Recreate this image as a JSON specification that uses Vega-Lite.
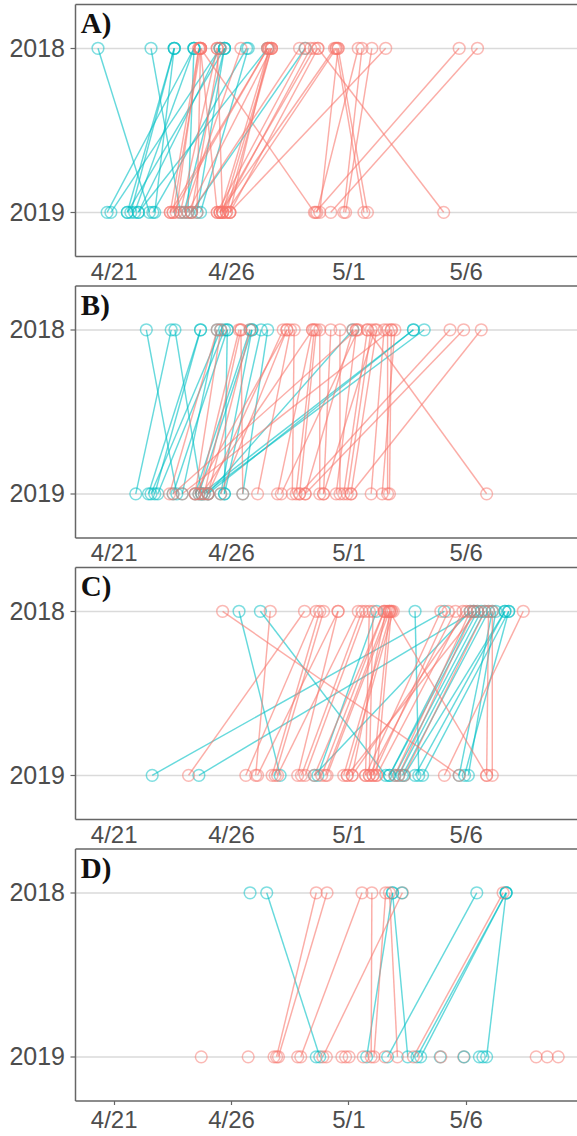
{
  "$schema": "https://vega.github.io/schema/vega-lite/v6.json",
  "description": "Arrival day of tracked individuals in 2018 and 2019, paired by individual, four panels. day counts days from 31 March (21 = April 21, 31 = May 1).",
  "background": "white",
  "padding": {"left": 8, "top": 4, "right": 0, "bottom": 0},
  "bounds": "flush",
  "spacing": 29.5,
  "config": {
    "view": {"stroke": null},
    "axis": {
      "labelFont": "Liberation Sans",
      "labelColor": "#4d4d4d",
      "domainColor": "#666666",
      "domainWidth": 1.5,
      "tickColor": "#666666",
      "tickWidth": 1.2,
      "gridColor": "#dadada",
      "gridWidth": 1.6
    }
  },
  "datasets": {
    "panelLabels": [
      {"panel": "A", "label": "A)"},
      {"panel": "B", "label": "B)"},
      {"panel": "C", "label": "C)"},
      {"panel": "D", "label": "D)"}
    ],
    "arrivals": [
      {"panel":"A","id":"A01","group":"G2","year":2018,"day":20.33},{"panel":"A","id":"A01","group":"G2","year":2019,"day":22.52},
      {"panel":"A","id":"A02","group":"G2","year":2018,"day":22.59},{"panel":"A","id":"A02","group":"G2","year":2019,"day":23.84},
      {"panel":"A","id":"A03","group":"G2","year":2018,"day":23.58},{"panel":"A","id":"A03","group":"G2","year":2019,"day":21.58},
      {"panel":"A","id":"A04","group":"G2","year":2018,"day":23.58},{"panel":"A","id":"A04","group":"G2","year":2019,"day":21.73},
      {"panel":"A","id":"A05","group":"G2","year":2018,"day":23.58},{"panel":"A","id":"A05","group":"G2","year":2019,"day":22.75},
      {"panel":"A","id":"A06","group":"G2","year":2018,"day":24.42},{"panel":"A","id":"A06","group":"G2","year":2019,"day":20.72},
      {"panel":"A","id":"A07","group":"G2","year":2018,"day":24.42},{"panel":"A","id":"A07","group":"G2","year":2019,"day":21.89},
      {"panel":"A","id":"A08","group":"G2","year":2018,"day":24.42},{"panel":"A","id":"A08","group":"G2","year":2019,"day":24.16},
      {"panel":"A","id":"A09","group":"G2","year":2018,"day":25.53},{"panel":"A","id":"A09","group":"G2","year":2019,"day":20.88},
      {"panel":"A","id":"A10","group":"G2","year":2018,"day":25.53},{"panel":"A","id":"A10","group":"G2","year":2019,"day":22.05},
      {"panel":"A","id":"A11","group":"G2","year":2018,"day":25.72},{"panel":"A","id":"A11","group":"G2","year":2019,"day":21.58},
      {"panel":"A","id":"A12","group":"G2","year":2018,"day":25.72},{"panel":"A","id":"A12","group":"G2","year":2019,"day":24.55},
      {"panel":"A","id":"A13","group":"G2","year":2018,"day":26.66},{"panel":"A","id":"A13","group":"G2","year":2019,"day":22.67},
      {"panel":"A","id":"A14","group":"G2","year":2018,"day":26.73},{"panel":"A","id":"A14","group":"G2","year":2019,"day":24.70},
      {"panel":"A","id":"A15","group":"G2","year":2018,"day":27.56},{"panel":"A","id":"A15","group":"G2","year":2019,"day":22.05},
      {"panel":"A","id":"A16","group":"G2","year":2018,"day":29.16},{"panel":"A","id":"A16","group":"G2","year":2019,"day":24.31},
      {"panel":"A","id":"A17","group":"G2","year":2018,"day":25.72},{"panel":"A","id":"A17","group":"G2","year":2019,"day":24.00},
      {"panel":"A","id":"A18","group":"G1","year":2018,"day":24.63},{"panel":"A","id":"A18","group":"G1","year":2019,"day":23.41},
      {"panel":"A","id":"A19","group":"G1","year":2018,"day":24.70},{"panel":"A","id":"A19","group":"G1","year":2019,"day":23.53},
      {"panel":"A","id":"A20","group":"G1","year":2018,"day":24.63},{"panel":"A","id":"A20","group":"G1","year":2019,"day":23.66},
      {"panel":"A","id":"A21","group":"G1","year":2018,"day":25.41},{"panel":"A","id":"A21","group":"G1","year":2019,"day":23.84},
      {"panel":"A","id":"A22","group":"G1","year":2018,"day":24.70},{"panel":"A","id":"A22","group":"G1","year":2019,"day":25.41},
      {"panel":"A","id":"A23","group":"G1","year":2018,"day":25.41},{"panel":"A","id":"A23","group":"G1","year":2019,"day":25.64},
      {"panel":"A","id":"A24","group":"G1","year":2018,"day":26.42},{"panel":"A","id":"A24","group":"G1","year":2019,"day":24.00},
      {"panel":"A","id":"A25","group":"G1","year":2018,"day":27.56},{"panel":"A","id":"A25","group":"G1","year":2019,"day":23.41},
      {"panel":"A","id":"A26","group":"G1","year":2018,"day":27.63},{"panel":"A","id":"A26","group":"G1","year":2019,"day":25.53},
      {"panel":"A","id":"A27","group":"G1","year":2018,"day":27.72},{"panel":"A","id":"A27","group":"G1","year":2019,"day":25.64},
      {"panel":"A","id":"A28","group":"G1","year":2018,"day":27.72},{"panel":"A","id":"A28","group":"G1","year":2019,"day":25.80},
      {"panel":"A","id":"A29","group":"G1","year":2018,"day":27.63},{"panel":"A","id":"A29","group":"G1","year":2019,"day":25.95},
      {"panel":"A","id":"A30","group":"G1","year":2018,"day":27.56},{"panel":"A","id":"A30","group":"G1","year":2019,"day":23.53},
      {"panel":"A","id":"A31","group":"G1","year":2018,"day":28.92},{"panel":"A","id":"A31","group":"G1","year":2019,"day":24.31},
      {"panel":"A","id":"A32","group":"G1","year":2018,"day":29.16},{"panel":"A","id":"A32","group":"G1","year":2019,"day":25.41},
      {"panel":"A","id":"A33","group":"G1","year":2018,"day":29.55},{"panel":"A","id":"A33","group":"G1","year":2019,"day":25.53},
      {"panel":"A","id":"A34","group":"G1","year":2018,"day":29.70},{"panel":"A","id":"A34","group":"G1","year":2019,"day":25.95},
      {"panel":"A","id":"A35","group":"G1","year":2018,"day":30.41},{"panel":"A","id":"A35","group":"G1","year":2019,"day":25.53},
      {"panel":"A","id":"A36","group":"G1","year":2018,"day":30.48},{"panel":"A","id":"A36","group":"G1","year":2019,"day":25.80},
      {"panel":"A","id":"A37","group":"G1","year":2018,"day":30.56},{"panel":"A","id":"A37","group":"G1","year":2019,"day":29.78},
      {"panel":"A","id":"A38","group":"G1","year":2018,"day":31.42},{"panel":"A","id":"A38","group":"G1","year":2019,"day":29.66},
      {"panel":"A","id":"A39","group":"G1","year":2018,"day":31.58},{"panel":"A","id":"A39","group":"G1","year":2019,"day":30.80},
      {"panel":"A","id":"A40","group":"G1","year":2018,"day":32.00},{"panel":"A","id":"A40","group":"G1","year":2019,"day":30.88},
      {"panel":"A","id":"A41","group":"G1","year":2018,"day":32.59},{"panel":"A","id":"A41","group":"G1","year":2019,"day":25.95},
      {"panel":"A","id":"A42","group":"G1","year":2018,"day":24.70},{"panel":"A","id":"A42","group":"G1","year":2019,"day":29.55},
      {"panel":"A","id":"A43","group":"G1","year":2018,"day":29.70},{"panel":"A","id":"A43","group":"G1","year":2019,"day":35.06},
      {"panel":"A","id":"A44","group":"G1","year":2018,"day":30.48},{"panel":"A","id":"A44","group":"G1","year":2019,"day":31.66},
      {"panel":"A","id":"A45","group":"G1","year":2018,"day":30.56},{"panel":"A","id":"A45","group":"G1","year":2019,"day":31.81},
      {"panel":"A","id":"A46","group":"G1","year":2018,"day":35.72},{"panel":"A","id":"A46","group":"G1","year":2019,"day":29.60},
      {"panel":"A","id":"A47","group":"G1","year":2018,"day":36.50},{"panel":"A","id":"A47","group":"G1","year":2019,"day":30.25},
      {"panel":"A","id":"A48","group":"G1","year":2018,"day":24.70},{"panel":"A","id":"A48","group":"G1","year":2019,"day":24.55},
      {"panel":"A","id":"A49","group":"G1","year":2018,"day":25.53},{"panel":"A","id":"A49","group":"G1","year":2019,"day":24.31},
      {"panel":"A","id":"A50","group":"G1","year":2018,"day":29.39},{"panel":"A","id":"A50","group":"G1","year":2019,"day":25.64},
      {"panel":"A","id":"A51","group":"G1","year":2018,"day":27.72},{"panel":"A","id":"A51","group":"G1","year":2019,"day":24.16},

      {"panel":"B","id":"B01","group":"G2","year":2018,"day":22.39},{"panel":"B","id":"B01","group":"G2","year":2019,"day":23.69},
      {"panel":"B","id":"B02","group":"G2","year":2018,"day":23.45},{"panel":"B","id":"B02","group":"G2","year":2019,"day":21.94},
      {"panel":"B","id":"B03","group":"G2","year":2018,"day":23.61},{"panel":"B","id":"B03","group":"G2","year":2019,"day":24.75},
      {"panel":"B","id":"B04","group":"G2","year":2018,"day":24.70},{"panel":"B","id":"B04","group":"G2","year":2019,"day":22.48},
      {"panel":"B","id":"B05","group":"G2","year":2018,"day":24.70},{"panel":"B","id":"B05","group":"G2","year":2019,"day":22.75},
      {"panel":"B","id":"B06","group":"G2","year":2018,"day":25.56},{"panel":"B","id":"B06","group":"G2","year":2019,"day":22.59},
      {"panel":"B","id":"B07","group":"G2","year":2018,"day":25.72},{"panel":"B","id":"B07","group":"G2","year":2019,"day":22.88},
      {"panel":"B","id":"B08","group":"G2","year":2018,"day":25.84},{"panel":"B","id":"B08","group":"G2","year":2019,"day":23.53},
      {"panel":"B","id":"B09","group":"G2","year":2018,"day":25.41},{"panel":"B","id":"B09","group":"G2","year":2019,"day":23.92},
      {"panel":"B","id":"B10","group":"G2","year":2018,"day":26.81},{"panel":"B","id":"B10","group":"G2","year":2019,"day":24.47},
      {"panel":"B","id":"B11","group":"G2","year":2018,"day":26.89},{"panel":"B","id":"B11","group":"G2","year":2019,"day":24.63},
      {"panel":"B","id":"B12","group":"G2","year":2018,"day":27.28},{"panel":"B","id":"B12","group":"G2","year":2019,"day":25.72},
      {"panel":"B","id":"B13","group":"G2","year":2018,"day":27.56},{"panel":"B","id":"B13","group":"G2","year":2019,"day":26.50},
      {"panel":"B","id":"B14","group":"G2","year":2018,"day":33.77},{"panel":"B","id":"B14","group":"G2","year":2019,"day":24.75},
      {"panel":"B","id":"B15","group":"G2","year":2018,"day":34.23},{"panel":"B","id":"B15","group":"G2","year":2019,"day":24.86},
      {"panel":"B","id":"B16","group":"G2","year":2018,"day":33.77},{"panel":"B","id":"B16","group":"G2","year":2019,"day":25.02},
      {"panel":"B","id":"B17","group":"G2","year":2018,"day":25.84},{"panel":"B","id":"B17","group":"G2","year":2019,"day":25.72},
      {"panel":"B","id":"B18","group":"G2","year":2018,"day":31.19},{"panel":"B","id":"B18","group":"G2","year":2019,"day":25.02},
      {"panel":"B","id":"B19","group":"G2","year":2018,"day":26.89},{"panel":"B","id":"B19","group":"G2","year":2019,"day":25.56},
      {"panel":"B","id":"B20","group":"G1","year":2018,"day":25.41},{"panel":"B","id":"B20","group":"G1","year":2019,"day":23.38},
      {"panel":"B","id":"B21","group":"G1","year":2018,"day":25.56},{"panel":"B","id":"B21","group":"G1","year":2019,"day":24.47},
      {"panel":"B","id":"B22","group":"G1","year":2018,"day":26.34},{"panel":"B","id":"B22","group":"G1","year":2019,"day":24.63},
      {"panel":"B","id":"B23","group":"G1","year":2018,"day":26.42},{"panel":"B","id":"B23","group":"G1","year":2019,"day":24.86},
      {"panel":"B","id":"B24","group":"G1","year":2018,"day":26.81},{"panel":"B","id":"B24","group":"G1","year":2019,"day":25.02},
      {"panel":"B","id":"B25","group":"G1","year":2018,"day":28.22},{"panel":"B","id":"B25","group":"G1","year":2019,"day":25.02},
      {"panel":"B","id":"B26","group":"G1","year":2018,"day":28.38},{"panel":"B","id":"B26","group":"G1","year":2019,"day":25.56},
      {"panel":"B","id":"B27","group":"G1","year":2018,"day":28.53},{"panel":"B","id":"B27","group":"G1","year":2019,"day":27.13},
      {"panel":"B","id":"B28","group":"G1","year":2018,"day":28.69},{"panel":"B","id":"B28","group":"G1","year":2019,"day":28.61},
      {"panel":"B","id":"B29","group":"G1","year":2018,"day":29.47},{"panel":"B","id":"B29","group":"G1","year":2019,"day":27.98},
      {"panel":"B","id":"B30","group":"G1","year":2018,"day":29.55},{"panel":"B","id":"B30","group":"G1","year":2019,"day":28.77},
      {"panel":"B","id":"B31","group":"G1","year":2018,"day":29.63},{"panel":"B","id":"B31","group":"G1","year":2019,"day":28.92},
      {"panel":"B","id":"B32","group":"G1","year":2018,"day":29.78},{"panel":"B","id":"B32","group":"G1","year":2019,"day":29.78},
      {"panel":"B","id":"B33","group":"G1","year":2018,"day":30.25},{"panel":"B","id":"B33","group":"G1","year":2019,"day":29.94},
      {"panel":"B","id":"B34","group":"G1","year":2018,"day":30.64},{"panel":"B","id":"B34","group":"G1","year":2019,"day":30.64},
      {"panel":"B","id":"B35","group":"G1","year":2018,"day":31.19},{"panel":"B","id":"B35","group":"G1","year":2019,"day":29.16},
      {"panel":"B","id":"B36","group":"G1","year":2018,"day":31.34},{"panel":"B","id":"B36","group":"G1","year":2019,"day":30.48},
      {"panel":"B","id":"B37","group":"G1","year":2018,"day":31.42},{"panel":"B","id":"B37","group":"G1","year":2019,"day":28.14},
      {"panel":"B","id":"B38","group":"G1","year":2018,"day":31.81},{"panel":"B","id":"B38","group":"G1","year":2019,"day":30.80},
      {"panel":"B","id":"B39","group":"G1","year":2018,"day":31.97},{"panel":"B","id":"B39","group":"G1","year":2019,"day":30.95},
      {"panel":"B","id":"B40","group":"G1","year":2018,"day":32.13},{"panel":"B","id":"B40","group":"G1","year":2019,"day":29.94},
      {"panel":"B","id":"B41","group":"G1","year":2018,"day":32.20},{"panel":"B","id":"B41","group":"G1","year":2019,"day":31.11},
      {"panel":"B","id":"B42","group":"G1","year":2018,"day":32.52},{"panel":"B","id":"B42","group":"G1","year":2019,"day":31.97},
      {"panel":"B","id":"B43","group":"G1","year":2018,"day":32.67},{"panel":"B","id":"B43","group":"G1","year":2019,"day":32.67},
      {"panel":"B","id":"B44","group":"G1","year":2018,"day":32.83},{"panel":"B","id":"B44","group":"G1","year":2019,"day":32.75},
      {"panel":"B","id":"B45","group":"G1","year":2018,"day":32.98},{"panel":"B","id":"B45","group":"G1","year":2019,"day":32.44},
      {"panel":"B","id":"B46","group":"G1","year":2018,"day":31.81},{"panel":"B","id":"B46","group":"G1","year":2019,"day":36.89},
      {"panel":"B","id":"B47","group":"G1","year":2018,"day":35.33},{"panel":"B","id":"B47","group":"G1","year":2019,"day":28.92},
      {"panel":"B","id":"B48","group":"G1","year":2018,"day":35.91},{"panel":"B","id":"B48","group":"G1","year":2019,"day":29.16},
      {"panel":"B","id":"B49","group":"G1","year":2018,"day":36.66},{"panel":"B","id":"B49","group":"G1","year":2019,"day":31.11},
      {"panel":"B","id":"B50","group":"G1","year":2018,"day":31.34},{"panel":"B","id":"B50","group":"G1","year":2019,"day":23.53},
      {"panel":"B","id":"B51","group":"G1","year":2018,"day":32.83},{"panel":"B","id":"B51","group":"G1","year":2019,"day":23.92},
      {"panel":"B","id":"B52","group":"G1","year":2018,"day":26.42},{"panel":"B","id":"B52","group":"G1","year":2019,"day":26.50},
      {"panel":"B","id":"B53","group":"G1","year":2018,"day":28.38},{"panel":"B","id":"B53","group":"G1","year":2019,"day":24.47},
      {"panel":"B","id":"B54","group":"G1","year":2018,"day":29.47},{"panel":"B","id":"B54","group":"G1","year":2019,"day":24.75},

      {"panel":"C","id":"C01","group":"G2","year":2018,"day":35.09},{"panel":"C","id":"C01","group":"G2","year":2019,"day":22.64},
      {"panel":"C","id":"C02","group":"G2","year":2018,"day":36.34},{"panel":"C","id":"C02","group":"G2","year":2019,"day":24.63},
      {"panel":"C","id":"C03","group":"G2","year":2018,"day":26.34},{"panel":"C","id":"C03","group":"G2","year":2019,"day":28.09},
      {"panel":"C","id":"C04","group":"G2","year":2018,"day":27.25},{"panel":"C","id":"C04","group":"G2","year":2019,"day":32.59},
      {"panel":"C","id":"C05","group":"G2","year":2018,"day":32.20},{"panel":"C","id":"C05","group":"G2","year":2019,"day":29.70},
      {"panel":"C","id":"C06","group":"G2","year":2018,"day":33.84},{"panel":"C","id":"C06","group":"G2","year":2019,"day":34.00},
      {"panel":"C","id":"C07","group":"G2","year":2018,"day":36.50},{"panel":"C","id":"C07","group":"G2","year":2019,"day":32.75},
      {"panel":"C","id":"C08","group":"G2","year":2018,"day":36.66},{"panel":"C","id":"C08","group":"G2","year":2019,"day":32.98},
      {"panel":"C","id":"C09","group":"G2","year":2018,"day":36.81},{"panel":"C","id":"C09","group":"G2","year":2019,"day":33.14},
      {"panel":"C","id":"C10","group":"G2","year":2018,"day":36.97},{"panel":"C","id":"C10","group":"G2","year":2019,"day":33.30},
      {"panel":"C","id":"C11","group":"G2","year":2018,"day":37.67},{"panel":"C","id":"C11","group":"G2","year":2019,"day":33.38},
      {"panel":"C","id":"C12","group":"G2","year":2018,"day":37.83},{"panel":"C","id":"C12","group":"G2","year":2019,"day":34.16},
      {"panel":"C","id":"C13","group":"G2","year":2018,"day":37.13},{"panel":"C","id":"C13","group":"G2","year":2019,"day":35.72},
      {"panel":"C","id":"C14","group":"G2","year":2018,"day":37.83},{"panel":"C","id":"C14","group":"G2","year":2019,"day":35.95},
      {"panel":"C","id":"C15","group":"G2","year":2018,"day":37.28},{"panel":"C","id":"C15","group":"G2","year":2019,"day":36.11},
      {"panel":"C","id":"C16","group":"G2","year":2018,"day":36.19},{"panel":"C","id":"C16","group":"G2","year":2019,"day":29.55},
      {"panel":"C","id":"C17","group":"G2","year":2018,"day":37.67},{"panel":"C","id":"C17","group":"G2","year":2019,"day":33.84},
      {"panel":"C","id":"C18","group":"G2","year":2018,"day":36.34},{"panel":"C","id":"C18","group":"G2","year":2019,"day":32.75},
      {"panel":"C","id":"C19","group":"G1","year":2018,"day":25.64},{"panel":"C","id":"C19","group":"G1","year":2019,"day":35.72},
      {"panel":"C","id":"C20","group":"G1","year":2018,"day":29.13},{"panel":"C","id":"C20","group":"G1","year":2019,"day":24.19},
      {"panel":"C","id":"C21","group":"G1","year":2018,"day":27.67},{"panel":"C","id":"C21","group":"G1","year":2019,"day":27.05},
      {"panel":"C","id":"C22","group":"G1","year":2018,"day":29.63},{"panel":"C","id":"C22","group":"G1","year":2019,"day":26.63},
      {"panel":"C","id":"C23","group":"G1","year":2018,"day":29.78},{"panel":"C","id":"C23","group":"G1","year":2019,"day":27.75},
      {"panel":"C","id":"C24","group":"G1","year":2018,"day":29.94},{"panel":"C","id":"C24","group":"G1","year":2019,"day":27.88},
      {"panel":"C","id":"C25","group":"G1","year":2018,"day":30.56},{"panel":"C","id":"C25","group":"G1","year":2019,"day":28.84},
      {"panel":"C","id":"C26","group":"G1","year":2018,"day":31.42},{"panel":"C","id":"C26","group":"G1","year":2019,"day":27.98},
      {"panel":"C","id":"C27","group":"G1","year":2018,"day":31.58},{"panel":"C","id":"C27","group":"G1","year":2019,"day":29.00},
      {"panel":"C","id":"C28","group":"G1","year":2018,"day":31.73},{"panel":"C","id":"C28","group":"G1","year":2019,"day":29.16},
      {"panel":"C","id":"C29","group":"G1","year":2018,"day":31.89},{"panel":"C","id":"C29","group":"G1","year":2019,"day":31.73},
      {"panel":"C","id":"C30","group":"G1","year":2018,"day":32.05},{"panel":"C","id":"C30","group":"G1","year":2019,"day":31.89},
      {"panel":"C","id":"C31","group":"G1","year":2018,"day":32.52},{"panel":"C","id":"C31","group":"G1","year":2019,"day":29.86},
      {"panel":"C","id":"C32","group":"G1","year":2018,"day":32.67},{"panel":"C","id":"C32","group":"G1","year":2019,"day":30.02},
      {"panel":"C","id":"C33","group":"G1","year":2018,"day":32.75},{"panel":"C","id":"C33","group":"G1","year":2019,"day":30.09},
      {"panel":"C","id":"C34","group":"G1","year":2018,"day":32.83},{"panel":"C","id":"C34","group":"G1","year":2019,"day":30.80},
      {"panel":"C","id":"C35","group":"G1","year":2018,"day":32.91},{"panel":"C","id":"C35","group":"G1","year":2019,"day":30.95},
      {"panel":"C","id":"C36","group":"G1","year":2018,"day":32.59},{"panel":"C","id":"C36","group":"G1","year":2019,"day":31.16},
      {"panel":"C","id":"C37","group":"G1","year":2018,"day":32.75},{"panel":"C","id":"C37","group":"G1","year":2019,"day":32.05},
      {"panel":"C","id":"C38","group":"G1","year":2018,"day":32.83},{"panel":"C","id":"C38","group":"G1","year":2019,"day":32.20},
      {"panel":"C","id":"C39","group":"G1","year":2018,"day":34.94},{"panel":"C","id":"C39","group":"G1","year":2019,"day":31.73},
      {"panel":"C","id":"C40","group":"G1","year":2018,"day":35.25},{"panel":"C","id":"C40","group":"G1","year":2019,"day":32.05},
      {"panel":"C","id":"C41","group":"G1","year":2018,"day":35.56},{"panel":"C","id":"C41","group":"G1","year":2019,"day":31.89},
      {"panel":"C","id":"C42","group":"G1","year":2018,"day":35.88},{"panel":"C","id":"C42","group":"G1","year":2019,"day":32.20},
      {"panel":"C","id":"C43","group":"G1","year":2018,"day":36.03},{"panel":"C","id":"C43","group":"G1","year":2019,"day":31.16},
      {"panel":"C","id":"C44","group":"G1","year":2018,"day":36.97},{"panel":"C","id":"C44","group":"G1","year":2019,"day":36.89},
      {"panel":"C","id":"C45","group":"G1","year":2018,"day":37.13},{"panel":"C","id":"C45","group":"G1","year":2019,"day":37.13},
      {"panel":"C","id":"C46","group":"G1","year":2018,"day":38.45},{"panel":"C","id":"C46","group":"G1","year":2019,"day":35.09},
      {"panel":"C","id":"C47","group":"G1","year":2018,"day":32.75},{"panel":"C","id":"C47","group":"G1","year":2019,"day":36.89},
      {"panel":"C","id":"C48","group":"G1","year":2018,"day":30.56},{"panel":"C","id":"C48","group":"G1","year":2019,"day":27.13},
      {"panel":"C","id":"C49","group":"G1","year":2018,"day":36.50},{"panel":"C","id":"C49","group":"G1","year":2019,"day":30.95},
      {"panel":"C","id":"C50","group":"G1","year":2018,"day":36.81},{"panel":"C","id":"C50","group":"G1","year":2019,"day":33.38},
      {"panel":"C","id":"C51","group":"G1","year":2018,"day":32.52},{"panel":"C","id":"C51","group":"G1","year":2019,"day":29.55},
      {"panel":"C","id":"C52","group":"G1","year":2018,"day":36.19},{"panel":"C","id":"C52","group":"G1","year":2019,"day":32.98},
      {"panel":"C","id":"C53","group":"G1","year":2018,"day":36.34},{"panel":"C","id":"C53","group":"G1","year":2019,"day":33.14},

      {"panel":"D","id":"D01","group":"G2","year":2018,"day":27.52},{"panel":"D","id":"D01","group":"G2","year":2019,"day":29.78},
      {"panel":"D","id":"D02","group":"G2","year":2018,"day":32.88},{"panel":"D","id":"D02","group":"G2","year":2019,"day":33.53},
      {"panel":"D","id":"D03","group":"G2","year":2018,"day":32.88},{"panel":"D","id":"D03","group":"G2","year":2019,"day":31.78},
      {"panel":"D","id":"D04","group":"G2","year":2018,"day":36.47},{"panel":"D","id":"D04","group":"G2","year":2019,"day":32.67},
      {"panel":"D","id":"D05","group":"G2","year":2018,"day":37.72},{"panel":"D","id":"D05","group":"G2","year":2019,"day":33.92},
      {"panel":"D","id":"D06","group":"G2","year":2018,"day":37.72},{"panel":"D","id":"D06","group":"G2","year":2019,"day":34.08},
      {"panel":"D","id":"D07","group":"G2","year":2018,"day":37.72},{"panel":"D","id":"D07","group":"G2","year":2019,"day":36.89},
      {"panel":"D","id":"D08","group":"G2","year":2018,"day":26.81},
      {"panel":"D","id":"D09","group":"G1","year":2018,"day":29.63},{"panel":"D","id":"D09","group":"G1","year":2019,"day":27.94},
      {"panel":"D","id":"D10","group":"G1","year":2018,"day":30.09},{"panel":"D","id":"D10","group":"G1","year":2019,"day":28.02},
      {"panel":"D","id":"D11","group":"G1","year":2018,"day":31.58},{"panel":"D","id":"D11","group":"G1","year":2019,"day":28.97},
      {"panel":"D","id":"D12","group":"G1","year":2018,"day":32.00},{"panel":"D","id":"D12","group":"G1","year":2019,"day":31.97},
      {"panel":"D","id":"D13","group":"G1","year":2018,"day":32.59},{"panel":"D","id":"D13","group":"G1","year":2019,"day":32.09},
      {"panel":"D","id":"D14","group":"G1","year":2018,"day":33.30},{"panel":"D","id":"D14","group":"G1","year":2019,"day":29.91},
      {"panel":"D","id":"D15","group":"G1","year":2018,"day":32.75},{"panel":"D","id":"D15","group":"G1","year":2019,"day":33.09},
      {"panel":"D","id":"D16","group":"G1","year":2018,"day":37.59},{"panel":"D","id":"D16","group":"G1","year":2019,"day":33.77},
      {"panel":"D","id":"D17","group":"G1","year":2019,"day":24.73},
      {"panel":"D","id":"D18","group":"G1","year":2019,"day":26.73},
      {"panel":"D","id":"D19","group":"G1","year":2019,"day":27.83},
      {"panel":"D","id":"D20","group":"G1","year":2019,"day":28.84},
      {"panel":"D","id":"D21","group":"G2","year":2019,"day":29.63},
      {"panel":"D","id":"D22","group":"G1","year":2019,"day":30.06},
      {"panel":"D","id":"D23","group":"G1","year":2019,"day":30.72},
      {"panel":"D","id":"D24","group":"G1","year":2019,"day":30.88},
      {"panel":"D","id":"D25","group":"G1","year":2019,"day":31.03},
      {"panel":"D","id":"D26","group":"G1","year":2019,"day":31.63},
      {"panel":"D","id":"D27","group":"G1","year":2019,"day":32.56},
      {"panel":"D","id":"D28","group":"G2","year":2019,"day":34.91},
      {"panel":"D","id":"D29","group":"G1","year":2019,"day":34.94},
      {"panel":"D","id":"D30","group":"G1","year":2019,"day":35.91},
      {"panel":"D","id":"D31","group":"G2","year":2019,"day":35.93},
      {"panel":"D","id":"D32","group":"G2","year":2019,"day":36.58},
      {"panel":"D","id":"D33","group":"G2","year":2019,"day":36.73},
      {"panel":"D","id":"D34","group":"G1","year":2019,"day":39.00},
      {"panel":"D","id":"D35","group":"G1","year":2019,"day":39.47},
      {"panel":"D","id":"D36","group":"G1","year":2019,"day":39.94},
      {"panel":"D","id":"D37","group":"G2","year":2018,"day":33.28}
    ]
  },
  "vconcat": [
    {
      "width": 502, "height": 252,
      "resolve": {"axis": {"x": "independent"}},
      "layer": [
        {
          "data": {"name": "arrivals"},
          "transform": [{"filter": "datum.panel === 'A'"}],
          "mark": {"type": "line", "strokeWidth": 1.45, "opacity": 0.6},
          "encoding": {
            "x": {"field": "day", "type": "quantitative", "scale": {"domain": [19.351, 40.74], "nice": false, "zero": false},
                  "axis": {"orient": "bottom", "values": [21, 26, 31, 36], "labelExpr": "datum.value <= 30 ? '4/' + datum.value : '5/' + (datum.value - 30)", "labelFontSize": 24, "labelPadding": 4, "ticks": false, "tickSize": 0, "grid": false, "title": null, "labelFlush": false, "labelOverlap": false}},
            "y": {"field": "year", "type": "quantitative", "scale": {"domain": [2017.73, 2019.2665], "reverse": true, "nice": false, "zero": false},
                  "axis": {"values": [2018, 2019], "format": "d", "labelFontSize": 25, "labelPadding": 5.5, "tickSize": 5, "grid": true, "title": null, "labelFlush": false}},
            "color": {"field": "group", "type": "nominal", "scale": {"domain": ["G1", "G2"], "range": ["#F8766D", "#00BFC4"]}, "legend": null},
            "detail": {"field": "id"}
          }
        },
        {
          "data": {"name": "arrivals"},
          "transform": [{"filter": "datum.panel === 'A'"}],
          "mark": {"type": "point", "shape": "circle", "filled": false, "size": 138, "strokeWidth": 1.45, "opacity": 0.5},
          "encoding": {
            "x": {"field": "day", "type": "quantitative", "scale": {"domain": [19.351, 40.74], "nice": false, "zero": false},
                  "axis": {"orient": "top", "labels": false, "ticks": false, "grid": false, "title": null, "domain": true}},
            "y": {"field": "year", "type": "quantitative", "scale": {"domain": [2017.73, 2019.2665], "reverse": true, "nice": false, "zero": false},
                  "axis": {"values": [2018, 2019], "format": "d", "labelFontSize": 25, "labelPadding": 5.5, "tickSize": 5, "grid": true, "title": null, "labelFlush": false}},
            "color": {"field": "group", "type": "nominal", "scale": {"domain": ["G1", "G2"], "range": ["#F8766D", "#00BFC4"]}, "legend": null}
          }
        },
        {
          "data": {"name": "panelLabels"},
          "transform": [{"filter": "datum.panel === 'A'"}],
          "mark": {"type": "text", "font": "Liberation Serif", "fontWeight": "bold", "fontSize": 29, "align": "left", "baseline": "alphabetic", "color": "#111111"},
          "encoding": {
            "x": {"datum": 19.6, "type": "quantitative", "scale": {"domain": [19.351, 40.74], "nice": false, "zero": false}, "axis": null},
            "y": {"datum": 2017.909, "type": "quantitative", "scale": {"domain": [2017.73, 2019.2665], "reverse": true, "nice": false, "zero": false},
                  "axis": {"values": [2018, 2019], "format": "d", "labelFontSize": 25, "labelPadding": 5.5, "tickSize": 5, "grid": true, "title": null, "labelFlush": false}},
            "text": {"field": "label"}
          }
        }
      ]
    },
    {
      "width": 502, "height": 252,
      "resolve": {"axis": {"x": "independent"}},
      "layer": [
        {
          "data": {"name": "arrivals"},
          "transform": [{"filter": "datum.panel === 'B'"}],
          "mark": {"type": "line", "strokeWidth": 1.45, "opacity": 0.6},
          "encoding": {
            "x": {"field": "day", "type": "quantitative", "scale": {"domain": [19.351, 40.74], "nice": false, "zero": false},
                  "axis": {"orient": "bottom", "values": [21, 26, 31, 36], "labelExpr": "datum.value <= 30 ? '4/' + datum.value : '5/' + (datum.value - 30)", "labelFontSize": 24, "labelPadding": 4, "ticks": false, "tickSize": 0, "grid": false, "title": null, "labelFlush": false, "labelOverlap": false}},
            "y": {"field": "year", "type": "quantitative", "scale": {"domain": [2017.73, 2019.2665], "reverse": true, "nice": false, "zero": false},
                  "axis": {"values": [2018, 2019], "format": "d", "labelFontSize": 25, "labelPadding": 5.5, "tickSize": 5, "grid": true, "title": null, "labelFlush": false}},
            "color": {"field": "group", "type": "nominal", "scale": {"domain": ["G1", "G2"], "range": ["#F8766D", "#00BFC4"]}, "legend": null},
            "detail": {"field": "id"}
          }
        },
        {
          "data": {"name": "arrivals"},
          "transform": [{"filter": "datum.panel === 'B'"}],
          "mark": {"type": "point", "shape": "circle", "filled": false, "size": 138, "strokeWidth": 1.45, "opacity": 0.5},
          "encoding": {
            "x": {"field": "day", "type": "quantitative", "scale": {"domain": [19.351, 40.74], "nice": false, "zero": false},
                  "axis": {"orient": "top", "labels": false, "ticks": false, "grid": false, "title": null, "domain": true}},
            "y": {"field": "year", "type": "quantitative", "scale": {"domain": [2017.73, 2019.2665], "reverse": true, "nice": false, "zero": false},
                  "axis": {"values": [2018, 2019], "format": "d", "labelFontSize": 25, "labelPadding": 5.5, "tickSize": 5, "grid": true, "title": null, "labelFlush": false}},
            "color": {"field": "group", "type": "nominal", "scale": {"domain": ["G1", "G2"], "range": ["#F8766D", "#00BFC4"]}, "legend": null}
          }
        },
        {
          "data": {"name": "panelLabels"},
          "transform": [{"filter": "datum.panel === 'B'"}],
          "mark": {"type": "text", "font": "Liberation Serif", "fontWeight": "bold", "fontSize": 29, "align": "left", "baseline": "alphabetic", "color": "#111111"},
          "encoding": {
            "x": {"datum": 19.6, "type": "quantitative", "scale": {"domain": [19.351, 40.74], "nice": false, "zero": false}, "axis": null},
            "y": {"datum": 2017.909, "type": "quantitative", "scale": {"domain": [2017.73, 2019.2665], "reverse": true, "nice": false, "zero": false},
                  "axis": {"values": [2018, 2019], "format": "d", "labelFontSize": 25, "labelPadding": 5.5, "tickSize": 5, "grid": true, "title": null, "labelFlush": false}},
            "text": {"field": "label"}
          }
        }
      ]
    },
    {
      "width": 502, "height": 252,
      "resolve": {"axis": {"x": "independent"}},
      "layer": [
        {
          "data": {"name": "arrivals"},
          "transform": [{"filter": "datum.panel === 'C'"}],
          "mark": {"type": "line", "strokeWidth": 1.45, "opacity": 0.6},
          "encoding": {
            "x": {"field": "day", "type": "quantitative", "scale": {"domain": [19.351, 40.74], "nice": false, "zero": false},
                  "axis": {"orient": "bottom", "values": [21, 26, 31, 36], "labelExpr": "datum.value <= 30 ? '4/' + datum.value : '5/' + (datum.value - 30)", "labelFontSize": 24, "labelPadding": 4, "ticks": false, "tickSize": 0, "grid": false, "title": null, "labelFlush": false, "labelOverlap": false}},
            "y": {"field": "year", "type": "quantitative", "scale": {"domain": [2017.73, 2019.2665], "reverse": true, "nice": false, "zero": false},
                  "axis": {"values": [2018, 2019], "format": "d", "labelFontSize": 25, "labelPadding": 5.5, "tickSize": 5, "grid": true, "title": null, "labelFlush": false}},
            "color": {"field": "group", "type": "nominal", "scale": {"domain": ["G1", "G2"], "range": ["#F8766D", "#00BFC4"]}, "legend": null},
            "detail": {"field": "id"}
          }
        },
        {
          "data": {"name": "arrivals"},
          "transform": [{"filter": "datum.panel === 'C'"}],
          "mark": {"type": "point", "shape": "circle", "filled": false, "size": 138, "strokeWidth": 1.45, "opacity": 0.5},
          "encoding": {
            "x": {"field": "day", "type": "quantitative", "scale": {"domain": [19.351, 40.74], "nice": false, "zero": false},
                  "axis": {"orient": "top", "labels": false, "ticks": false, "grid": false, "title": null, "domain": true}},
            "y": {"field": "year", "type": "quantitative", "scale": {"domain": [2017.73, 2019.2665], "reverse": true, "nice": false, "zero": false},
                  "axis": {"values": [2018, 2019], "format": "d", "labelFontSize": 25, "labelPadding": 5.5, "tickSize": 5, "grid": true, "title": null, "labelFlush": false}},
            "color": {"field": "group", "type": "nominal", "scale": {"domain": ["G1", "G2"], "range": ["#F8766D", "#00BFC4"]}, "legend": null}
          }
        },
        {
          "data": {"name": "panelLabels"},
          "transform": [{"filter": "datum.panel === 'C'"}],
          "mark": {"type": "text", "font": "Liberation Serif", "fontWeight": "bold", "fontSize": 29, "align": "left", "baseline": "alphabetic", "color": "#111111"},
          "encoding": {
            "x": {"datum": 19.6, "type": "quantitative", "scale": {"domain": [19.351, 40.74], "nice": false, "zero": false}, "axis": null},
            "y": {"datum": 2017.909, "type": "quantitative", "scale": {"domain": [2017.73, 2019.2665], "reverse": true, "nice": false, "zero": false},
                  "axis": {"values": [2018, 2019], "format": "d", "labelFontSize": 25, "labelPadding": 5.5, "tickSize": 5, "grid": true, "title": null, "labelFlush": false}},
            "text": {"field": "label"}
          }
        }
      ]
    },
    {
      "width": 502, "height": 252,
      "resolve": {"axis": {"x": "independent"}},
      "layer": [
        {
          "data": {"name": "arrivals"},
          "transform": [{"filter": "datum.panel === 'D'"}],
          "mark": {"type": "line", "strokeWidth": 1.45, "opacity": 0.6},
          "encoding": {
            "x": {"field": "day", "type": "quantitative", "scale": {"domain": [19.351, 40.74], "nice": false, "zero": false},
                  "axis": {"orient": "bottom", "values": [21, 26, 31, 36], "labelExpr": "datum.value <= 30 ? '4/' + datum.value : '5/' + (datum.value - 30)", "labelFontSize": 24, "labelPadding": 3.5, "ticks": true, "tickSize": 4, "grid": false, "title": null, "labelFlush": false, "labelOverlap": false}},
            "y": {"field": "year", "type": "quantitative", "scale": {"domain": [2017.73, 2019.2665], "reverse": true, "nice": false, "zero": false},
                  "axis": {"values": [2018, 2019], "format": "d", "labelFontSize": 25, "labelPadding": 5.5, "tickSize": 5, "grid": true, "title": null, "labelFlush": false}},
            "color": {"field": "group", "type": "nominal", "scale": {"domain": ["G1", "G2"], "range": ["#F8766D", "#00BFC4"]}, "legend": null},
            "detail": {"field": "id"}
          }
        },
        {
          "data": {"name": "arrivals"},
          "transform": [{"filter": "datum.panel === 'D'"}],
          "mark": {"type": "point", "shape": "circle", "filled": false, "size": 138, "strokeWidth": 1.45, "opacity": 0.5},
          "encoding": {
            "x": {"field": "day", "type": "quantitative", "scale": {"domain": [19.351, 40.74], "nice": false, "zero": false},
                  "axis": {"orient": "top", "labels": false, "ticks": false, "grid": false, "title": null, "domain": true}},
            "y": {"field": "year", "type": "quantitative", "scale": {"domain": [2017.73, 2019.2665], "reverse": true, "nice": false, "zero": false},
                  "axis": {"values": [2018, 2019], "format": "d", "labelFontSize": 25, "labelPadding": 5.5, "tickSize": 5, "grid": true, "title": null, "labelFlush": false}},
            "color": {"field": "group", "type": "nominal", "scale": {"domain": ["G1", "G2"], "range": ["#F8766D", "#00BFC4"]}, "legend": null}
          }
        },
        {
          "data": {"name": "panelLabels"},
          "transform": [{"filter": "datum.panel === 'D'"}],
          "mark": {"type": "text", "font": "Liberation Serif", "fontWeight": "bold", "fontSize": 29, "align": "left", "baseline": "alphabetic", "color": "#111111"},
          "encoding": {
            "x": {"datum": 19.6, "type": "quantitative", "scale": {"domain": [19.351, 40.74], "nice": false, "zero": false}, "axis": null},
            "y": {"datum": 2017.909, "type": "quantitative", "scale": {"domain": [2017.73, 2019.2665], "reverse": true, "nice": false, "zero": false},
                  "axis": {"values": [2018, 2019], "format": "d", "labelFontSize": 25, "labelPadding": 5.5, "tickSize": 5, "grid": true, "title": null, "labelFlush": false}},
            "text": {"field": "label"}
          }
        }
      ]
    }
  ]
}
